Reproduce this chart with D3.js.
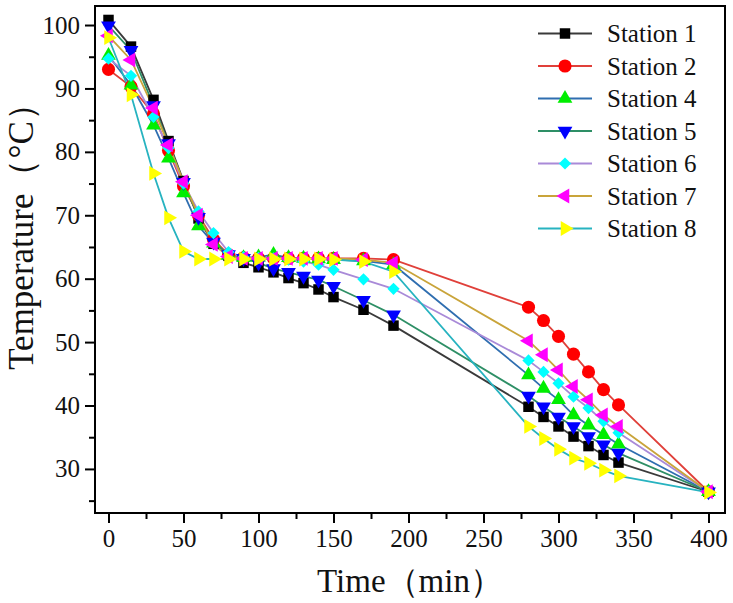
<!DOCTYPE html>
<html><head><meta charset="utf-8">
<script src="https://cdn.jsdelivr.net/npm/d3@7"></script>
<style>body{margin:0;background:#fff}</style>
</head><body><svg id="c" width="733" height="603"></svg>
<script>
const times = [0,15,30,40,50,60,70,80,90,100,110,120,130,140,150,170,190,280,290,300,310,320,330,340,400];
const station1 = [100.8,96.6,88.2,81.7,75.4,69.5,65.5,63.6,62.5,61.8,61.0,60.1,59.3,58.3,57.1,55.1,52.6,39.8,38.2,36.7,35.1,33.6,32.2,31.0,26.4];
const station2 = [93.0,90.3,86.0,80.2,74.6,70.0,66.2,63.8,63.3,63.2,63.2,63.2,63.2,63.2,63.2,63.2,63.0,55.5,53.4,50.9,48.1,45.3,42.5,40.1,26.4];
const station4 = [95.2,90.5,84.2,79.0,73.5,68.3,65.6,63.7,63.3,63.4,63.8,63.3,63.2,63.1,63.0,62.8,62.2,44.8,42.7,40.9,38.5,36.9,35.4,33.9,26.4];
const station5 = [99.9,96.0,87.3,81.3,75.2,69.7,65.8,63.8,63.2,62.5,61.6,61.0,60.4,59.8,58.8,56.6,54.3,41.5,39.8,38.2,36.7,35.1,33.8,32.5,26.4];
const station6 = [94.7,92.0,85.5,80.6,75.0,70.6,67.2,64.2,63.4,63.3,63.2,63.0,62.7,62.2,61.4,59.9,58.4,47.1,45.3,43.5,41.4,39.6,37.5,35.7,26.4];
const station7 = [98.3,94.5,86.9,81.1,75.3,70.0,65.4,63.5,63.2,63.2,63.2,63.2,63.2,63.2,63.2,63.0,62.5,50.2,48.0,45.6,43.0,40.9,38.5,36.7,26.4];
const station8 = [98.0,89.0,76.6,69.6,64.3,63.1,63.1,63.1,63.1,63.1,63.1,63.1,63.1,63.1,63.0,62.7,61.1,36.7,34.8,33.1,31.7,30.9,29.8,28.9,26.3];
const seriesNames = ["Station 1","Station 2","Station 4","Station 5","Station 6","Station 7","Station 8"];
const xTicks = [0,50,100,150,200,250,300,350,400];
const xMinorTicks = [25,75,125,175,225,275,325,375];
const yTicks = [30,40,50,60,70,80,90,100];
const yMinorTicks = [25,35,45,55,65,75,85,95];

const seriesValues = [station1,station2,station4,station5,station6,station7,station8];
const lineColors = ["#3a3a3a","#e0403a","#2f6eb0","#2e8f66","#a98ad8","#c9a43a","#27b3c0"];
const markerColors = ["#000000","#ff0000","#00ee00","#0000ff","#00ffff","#ff00ff","#ffff00"];
// marker: [symbolType, rotation, size]
const markerDefs = [
  [d3.symbolSquare,0,110],
  [d3.symbolCircle,0,135],
  [d3.symbolTriangle,0,95],
  [d3.symbolTriangle,180,95],
  [d3.symbolSquare,45,75],
  [d3.symbolTriangle,-90,95],
  [d3.symbolTriangle,90,95]
];

const svg = d3.select("#c");
const L = 95, R = 725, T = 6, B = 513;
const x = d3.scaleLinear().domain([-9, 411]).range([L, R]);
const y = d3.scaleLinear().domain([23.05, 103]).range([B, T]);
const font = "'Liberation Serif','Times New Roman',serif";

// axes
const xAxis = svg.append("g").attr("transform", `translate(0,${B})`)
  .call(d3.axisBottom(x).tickValues(xTicks).tickSize(10).tickSizeOuter(0).tickPadding(6));
const xMinor = svg.append("g").attr("transform", `translate(0,${B})`)
  .call(d3.axisBottom(x).tickValues(xMinorTicks).tickSize(6).tickSizeOuter(0).tickFormat(""));
const yAxis = svg.append("g").attr("transform", `translate(${L},0)`)
  .call(d3.axisLeft(y).tickValues(yTicks).tickSize(10).tickSizeOuter(0).tickPadding(5));
const yMinor = svg.append("g").attr("transform", `translate(${L},0)`)
  .call(d3.axisLeft(y).tickValues(yMinorTicks).tickSize(6).tickSizeOuter(0).tickFormat(""));
[xAxis,xMinor,yAxis,yMinor].forEach(g=>{
  g.select(".domain").remove();
  g.selectAll(".tick line").attr("stroke","#000").attr("stroke-width",2);
  g.selectAll("text").attr("font-family",font).attr("font-size",25).attr("fill","#111");
});

// series
const line = d3.line().x((d,i)=>x(times[i])).y(d=>y(d));
seriesValues.forEach((vals,k)=>{
  svg.append("path").datum(vals).attr("d",line)
    .attr("fill","none").attr("stroke",lineColors[k]).attr("stroke-width",1.8);
});
seriesValues.forEach((vals,k)=>{
  const [type,rot,size] = markerDefs[k];
  svg.append("g").selectAll("path").data(vals).join("path")
    .attr("d", d3.symbol().type(type).size(size)())
    .attr("transform",(d,i)=>`translate(${x(times[i])},${y(d)}) rotate(${rot})`)
    .attr("fill",markerColors[k]);
});

// frame
svg.append("rect").attr("x",L).attr("y",T).attr("width",R-L).attr("height",B-T)
  .attr("fill","none").attr("stroke","#000").attr("stroke-width",2);

// legend
const legend = svg.append("g");
seriesNames.forEach((name,k)=>{
  const cy = 33.5 + k*32.5;
  legend.append("line").attr("x1",538).attr("x2",592).attr("y1",cy).attr("y2",cy)
    .attr("stroke",lineColors[k]).attr("stroke-width",2);
  const [type,rot,size] = markerDefs[k];
  legend.append("path").attr("d", d3.symbol().type(type).size(size)())
    .attr("transform",`translate(565,${cy}) rotate(${rot})`).attr("fill",markerColors[k]);
  legend.append("text").attr("x",607).attr("y",cy+8.5).text(name)
    .attr("font-family",font).attr("font-size",25).attr("fill","#111");
});

// axis titles
svg.append("text").attr("x",(L+R)/2).attr("y",592).attr("text-anchor","middle")
  .attr("font-family",font).attr("font-size",33).attr("fill","#111").text("Time（min）");
svg.append("text").attr("transform","translate(33,228) rotate(-90)").attr("text-anchor","middle")
  .attr("font-family",font).attr("font-size",35).attr("fill","#111").text("Temperature（°C）");
</script></body></html>
